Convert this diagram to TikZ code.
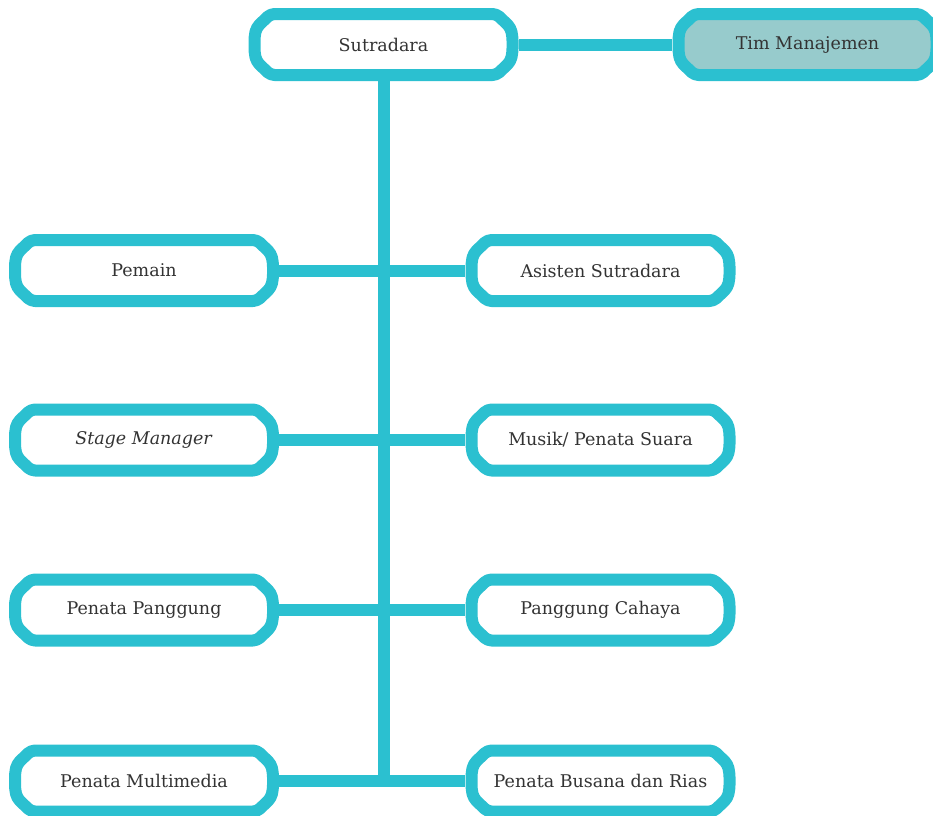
\documentclass[tikz,border=0pt]{standalone}
\usepackage{fontspec}
\setmainfont{DejaVu Serif}
\definecolor{cy}{HTML}{2BC0D0}
\definecolor{mg}{HTML}{97CBCC}
\definecolor{tx}{HTML}{333333}
\tikzset{
  boxanchor/.style={rectangle, minimum width=270pt, minimum height=73pt, inner sep=0pt,
    text=tx, font=\fontsize{17.5}{20}\selectfont},
  boxline/.style={draw=cy, line width=12pt, rounded corners=4pt, line join=round},
  link/.style={draw=cy, line width=12pt},
}
\newcommand\chbox[4]{%
  \coordinate (#2-c) at (#3);
  \path[boxline, fill=#1]
    ([shift={(-113,-30.5)}]#2-c) -- ([shift={(113,-30.5)}]#2-c)
    -- ([shift={(127,-17)}]#2-c) -- ([shift={(129,-8)}]#2-c)
    -- ([shift={(129,8)}]#2-c) -- ([shift={(127,17)}]#2-c)
    -- ([shift={(113,30.5)}]#2-c) -- ([shift={(-113,30.5)}]#2-c)
    -- ([shift={(-127,17)}]#2-c) -- ([shift={(-129,8)}]#2-c)
    -- ([shift={(-129,-8)}]#2-c) -- ([shift={(-127,-17)}]#2-c) -- cycle;
  \node[boxanchor] (#2) at (#2-c) {#4};
}
\begin{document}
\begin{tikzpicture}[x=1pt, y=-1pt]
\useasboundingbox (0,0) rectangle (933,815);
\clip (0,0) rectangle (933,815);
\chbox{white}{sut}{383.5,44.5}{Sutradara}
\chbox{mg}{tim}{807.5,44.5}{Tim Manajemen}
\chbox{white}{pem}{144,270.5}{Pemain}
\chbox{white}{ast}{600.5,270.5}{Asisten Sutradara}
\chbox{white}{stm}{144,440}{\textit{Stage Manager}}
\chbox{white}{mus}{600.5,440}{Musik/ Penata Suara}
\chbox{white}{pp}{144,610}{Penata Panggung}
\chbox{white}{pc}{600.5,610}{Panggung Cahaya}
\chbox{white}{pm}{144,781}{Penata Multimedia}
\chbox{white}{pb}{600.5,781}{Penata Busana dan Rias}
\draw[link] (sut.east) -- (tim.west);
\draw[link] (sut.south) -- (sut.south |- pm.east);
\draw[link] (pem.east) -- (ast.west);
\draw[link] (stm.east) -- (mus.west);
\draw[link] (pp.east) -- (pc.west);
\draw[link] (pm.east) -- (pb.west);
\end{tikzpicture}
\end{document}
